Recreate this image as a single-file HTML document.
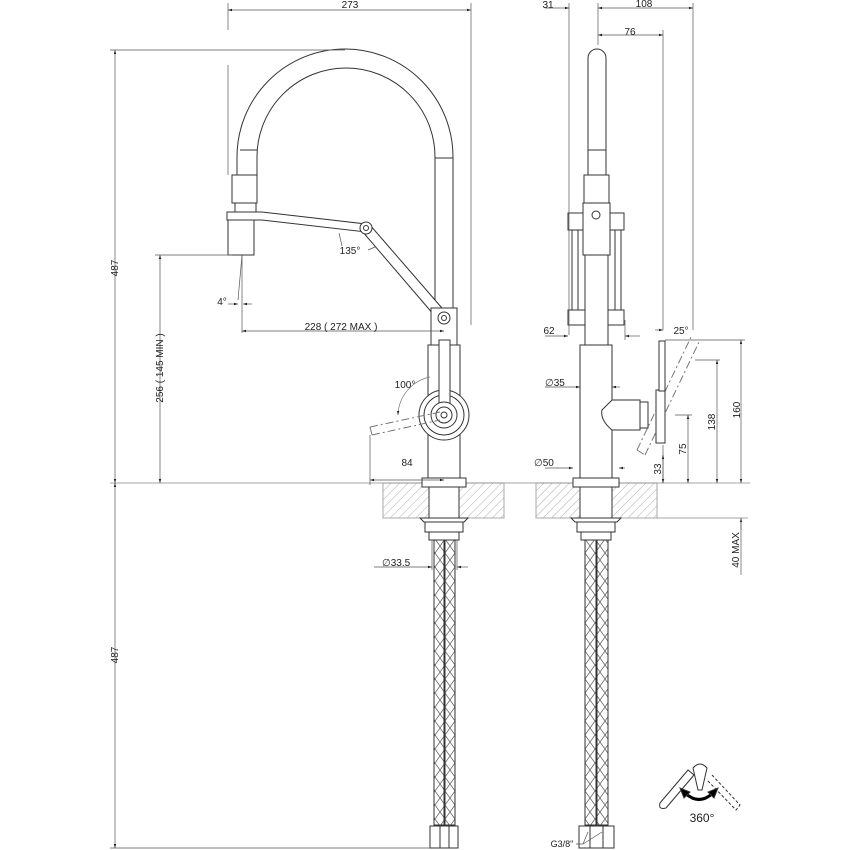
<!DOCTYPE html>
<html><head><meta charset="utf-8"><style>
html,body{margin:0;padding:0;background:#fff;}
svg{display:block;font-family:"Liberation Sans",sans-serif;}
</style></head><body>
<svg width="850" height="850" viewBox="0 0 850 850" xmlns="http://www.w3.org/2000/svg">
<defs>
<pattern id="hatch" width="6" height="6" patternUnits="userSpaceOnUse" patternTransform="rotate(45)">
<line x1="0" y1="0" x2="0" y2="6" stroke="#999" stroke-width="0.8"/>
</pattern>
<pattern id="braid" width="10" height="14" patternUnits="userSpaceOnUse">
<path d="M0,0 L10,14 M10,0 L0,14" stroke="#555" stroke-width="0.7" fill="none"/>
</pattern>
<marker id="a" viewBox="0 0 10 10" refX="10" refY="5" markerWidth="6" markerHeight="6" orient="auto-start-reverse"><path d="M0,2 L10,5 L0,8z" fill="#222"/></marker>
</defs>
<g fill="none" stroke="#333" stroke-width="1">
<rect x="383" y="483" width="121" height="35" fill="url(#hatch)" stroke="#aaa"/>
<rect x="536" y="483" width="121" height="35" fill="url(#hatch)" stroke="#aaa"/>
<line x1="110" y1="483" x2="750" y2="483" stroke="#888" stroke-width="0.7"/>
<line x1="657" y1="518" x2="748" y2="518" stroke="#888" stroke-width="0.7"/>

<path d="M237,175 L237,157 A108,108 0 0 1 453,157 L453,308"/>
<path d="M257,175 L257,157 A89,89 0 0 1 435,157 L435,308"/>
<line x1="240" y1="150" x2="257" y2="150"/>
<line x1="435" y1="158" x2="453" y2="158"/>
<rect x="232" y="175" width="25" height="28" fill="#fff"/>
<rect x="235" y="203" width="21" height="9" fill="#fff"/>
<rect x="228" y="220" width="26" height="35" fill="#fff"/>
<path d="M227,212 L262,212 L366,224 L366,232 L262,220 L227,220 Z" fill="#fff"/>
<path d="M362,231 L440,322 L448,315 L370,225" fill="#fff"/>
<rect x="431" y="308" width="26" height="37" fill="#fff"/>
<circle cx="366" cy="228" r="6" fill="#fff"/><circle cx="366" cy="228" r="2.5"/>
<circle cx="444" cy="318" r="6" fill="#fff"/><circle cx="444" cy="318" r="2.5"/>
<rect x="428" y="345" width="32" height="138" fill="#fff"/>
<circle cx="444" cy="415" r="25" fill="#fff"/>
<circle cx="444" cy="415" r="20"/>
<rect x="439" y="340" width="11" height="80" fill="#fff"/>
<circle cx="444" cy="415" r="13" fill="#fff"/>
<circle cx="444" cy="415" r="8"/>
<circle cx="444" cy="415" r="3"/>
<path d="M370,427 L440,412 M372,435 L440,420 M370,427 L372,435" stroke="#777" stroke-dasharray="8,3,2,3"/>
<path d="M430,377 A40,40 0 0 0 398,415" stroke="#777" stroke-width="0.7" marker-end="url(#a)"/>
<rect x="422" y="478" width="44" height="9" fill="#fff"/>
<rect x="429" y="487" width="30" height="31" fill="#fff"/>
<path d="M420,518 L468,518 L464,522 L424,522 Z"/>
<rect x="425" y="522" width="38" height="10"/>
<rect x="429" y="532" width="30" height="8"/>
<rect x="434" y="540" width="10" height="285" fill="url(#braid)"/>
<rect x="445" y="540" width="10" height="285" fill="url(#braid)"/>
<rect x="430" y="826" width="28" height="22"/>
<line x1="440" y1="826" x2="440" y2="848"/><line x1="449" y1="826" x2="449" y2="848"/>

<path d="M588,175 L588,58 A9,9 0 0 1 606,58 L606,175"/>
<line x1="588" y1="150" x2="606" y2="150"/>
<rect x="584" y="175" width="25" height="28"/>
<rect x="583" y="203" width="27" height="52" fill="#fff"/>
<rect x="568" y="213" width="15" height="17"/><rect x="610" y="213" width="14" height="17"/>
<rect x="572" y="230" width="6" height="80"/><rect x="615" y="230" width="6" height="80"/>
<rect x="568" y="310" width="17" height="15"/><rect x="608" y="310" width="16" height="15"/>
<rect x="585" y="255" width="23" height="90"/>
<circle cx="596" cy="215" r="4"/>
<rect x="580" y="345" width="32" height="138" fill="#fff"/>
<path d="M612,400 L640,400 L640,430 L612,430 Q600,420 602,410 Z" fill="#fff"/>
<rect x="640" y="402" width="8" height="26"/>
<path d="M645,455 L700,340 M637,450 L692,335 M637,450 L645,455" stroke="#777" stroke-dasharray="8,3,2,3"/>
<rect x="656" y="390" width="9" height="53" fill="#fff"/>
<rect x="659" y="341" width="6" height="50" fill="#fff"/>
<rect x="573" y="478" width="46" height="9" fill="#fff"/>
<rect x="580" y="487" width="32" height="31" fill="#fff"/>
<path d="M571,518 L621,518 L617,522 L575,522 Z"/>
<rect x="577" y="522" width="38" height="10"/>
<rect x="581" y="532" width="30" height="8"/>
<rect x="585" y="540" width="11" height="285" fill="url(#braid)"/>
<rect x="597" y="540" width="11" height="285" fill="url(#braid)"/>
<rect x="579" y="826" width="35" height="22"/>
<line x1="590" y1="826" x2="590" y2="848"/><line x1="603" y1="826" x2="603" y2="848"/>
</g>

<g stroke="#555" stroke-width="0.7" fill="none">
<line x1="228" y1="3" x2="228" y2="30"/><line x1="471" y1="3" x2="471" y2="325"/>
<line x1="228" y1="10" x2="471" y2="10" marker-start="url(#a)" marker-end="url(#a)"/>
<line x1="110" y1="50" x2="345" y2="50"/>
<line x1="115" y1="50" x2="115" y2="483" marker-start="url(#a)" marker-end="url(#a)"/>
<line x1="115" y1="483" x2="115" y2="848" marker-start="url(#a)" marker-end="url(#a)"/>
<line x1="110" y1="848" x2="430" y2="848"/>
<line x1="228" y1="65" x2="228" y2="175"/>
<line x1="155" y1="255" x2="232" y2="255"/>
<line x1="160" y1="255" x2="160" y2="483" marker-start="url(#a)" marker-end="url(#a)"/>
<line x1="242" y1="255" x2="242" y2="333"/><line x1="242" y1="255" x2="238" y2="300"/>
<line x1="228" y1="304" x2="238" y2="304" marker-end="url(#a)"/><line x1="252" y1="304" x2="243" y2="304" marker-end="url(#a)"/>
<line x1="242" y1="331" x2="444" y2="331" marker-start="url(#a)" marker-end="url(#a)"/>
<line x1="370" y1="435" x2="370" y2="485"/>
<line x1="370" y1="480" x2="444" y2="480" marker-start="url(#a)" marker-end="url(#a)"/>
<line x1="339" y1="233" x2="342" y2="246"/>
<line x1="375" y1="247" x2="368" y2="250"/>
<line x1="374" y1="567" x2="432" y2="567" marker-end="url(#a)"/><line x1="468" y1="567" x2="457" y2="567" marker-end="url(#a)"/>
<line x1="432" y1="540" x2="432" y2="570"/><line x1="457" y1="540" x2="457" y2="570"/>
<line x1="569" y1="3" x2="569" y2="335"/><line x1="598" y1="3" x2="598" y2="45"/>
<line x1="663" y1="30" x2="663" y2="330"/><line x1="693" y1="3" x2="693" y2="330"/>
<line x1="545" y1="8" x2="569" y2="8" marker-end="url(#a)"/>
<line x1="598" y1="8" x2="693" y2="8" marker-start="url(#a)" marker-end="url(#a)"/>
<line x1="598" y1="35" x2="663" y2="35" marker-start="url(#a)" marker-end="url(#a)"/>
<line x1="545" y1="336" x2="568" y2="336" marker-end="url(#a)"/><line x1="640" y1="336" x2="625" y2="336" marker-end="url(#a)"/>
<line x1="625" y1="320" x2="625" y2="340"/>
<line x1="545" y1="387" x2="580" y2="387" marker-end="url(#a)"/><line x1="620" y1="387" x2="612" y2="387" marker-end="url(#a)"/>
<line x1="545" y1="468" x2="573" y2="468" marker-end="url(#a)"/><line x1="625" y1="468" x2="619" y2="468" marker-end="url(#a)"/>
<line x1="665" y1="340" x2="745" y2="340"/><line x1="695" y1="360" x2="720" y2="360"/>
<line x1="675" y1="415" x2="692" y2="415"/>
<line x1="663" y1="445" x2="663" y2="483"/>
<line x1="741" y1="340" x2="741" y2="483" marker-start="url(#a)" marker-end="url(#a)"/>
<line x1="717" y1="360" x2="717" y2="483" marker-start="url(#a)" marker-end="url(#a)"/>
<line x1="688" y1="415" x2="688" y2="483" marker-start="url(#a)" marker-end="url(#a)"/>
<line x1="663" y1="455" x2="663" y2="483" marker-start="url(#a)" marker-end="url(#a)"/>
<line x1="741" y1="530" x2="741" y2="518" marker-end="url(#a)"/>
<line x1="741" y1="518" x2="741" y2="575"/>
<path d="M655,330 L663,330" marker-end="url(#a)"/>
<path d="M583,844 L588,832 M583,844 L602,832 M583,844 L576,844"/>
</g>

<g fill="none" stroke="#333" stroke-width="1">
<path d="M660,803 L688,770 L694,775 L666,808 Q658,810 660,803Z"/>
<path d="M712,775 L740,805 L736,810 L707,780" stroke-dasharray="3,2"/>
<path d="M693,768 Q700,760 707,768 L702,790 L698,790 Z" fill="#fff"/>
<path d="M685,793 Q699,806 713,793" stroke="#000" stroke-width="3"/>
<path d="M680,788 L684,798 L690,792Z M718,788 L714,798 L708,792Z" fill="#000"/>
</g>

<g fill="#222" font-size="10">
<text x="350" y="8" text-anchor="middle">273</text>
<text transform="translate(118,268) rotate(-90)" text-anchor="middle">487</text>
<text transform="translate(118,655) rotate(-90)" text-anchor="middle">487</text>
<text transform="translate(163,368) rotate(-90)" text-anchor="middle">256 ( 145 MIN )</text>
<text x="350" y="254" text-anchor="middle">135°</text>
<text x="222" y="305" text-anchor="middle">4°</text>
<text x="341" y="330" text-anchor="middle">228 ( 272 MAX )</text>
<text x="405" y="388" text-anchor="middle">100°</text>
<text x="407" y="466" text-anchor="middle">84</text>
<text x="382" y="566">∅33.5</text>
<text x="548" y="8" text-anchor="middle">31</text>
<text x="644" y="7" text-anchor="middle">108</text>
<text x="630" y="35" text-anchor="middle">76</text>
<text x="549" y="334" text-anchor="middle">62</text>
<text x="681" y="334" text-anchor="middle">25°</text>
<text x="545" y="386">∅35</text>
<text x="534" y="466">∅50</text>
<text transform="translate(740,410) rotate(-90)" text-anchor="middle">160</text>
<text transform="translate(715,422) rotate(-90)" text-anchor="middle">138</text>
<text transform="translate(686,449) rotate(-90)" text-anchor="middle">75</text>
<text transform="translate(661,469) rotate(-90)" text-anchor="middle">33</text>
<text transform="translate(739,550) rotate(-90)" text-anchor="middle">40 MAX</text>
<text x="562" y="847" text-anchor="middle" font-size="9">G3/8"</text>
<text x="702" y="822" text-anchor="middle" font-size="12">360°</text>
</g>
</svg>
</body></html>
